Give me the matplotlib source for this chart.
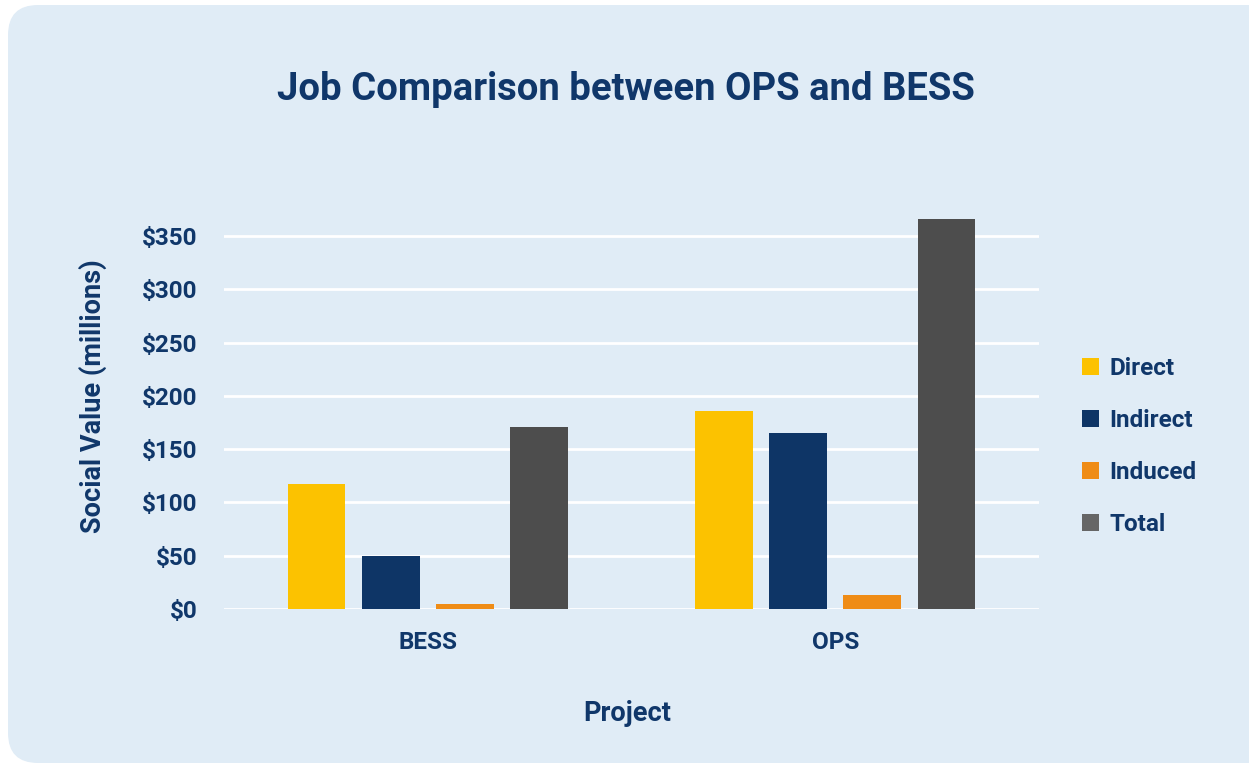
import matplotlib.pyplot as plt
from matplotlib.patches import FancyBboxPatch, Patch

plt.rcParams['font.family'] = ['Roboto', 'DejaVu Sans']

projects = ['BESS', 'OPS']
series = ['Direct', 'Indirect', 'Induced', 'Total']
direct = [117, 186]
indirect = [50, 165]
induced = [5, 13]
total = [171, 366]
yticks = [0, 50, 100, 150, 200, 250, 300, 350]

navy = '#10376a'
bar_colors = ['#fcc200', '#0e3566', '#ef8c16', '#4d4d4d']
legend_colors = ['#fcc200', '#0e3566', '#ef8c16', '#666666']

W, H = 1249, 765
fig = plt.figure(figsize=(W / 100, H / 100), dpi=100)
fig.patch.set_facecolor('white')

# rounded card behind everything, drawn in pixel units
bg = fig.add_axes([0, 0, 1, 1])
bg.set_xlim(0, W)
bg.set_ylim(H, 0)
bg.axis('off')
bg.add_patch(FancyBboxPatch((8, 5), W + 20, H - 7,
                            boxstyle='round,pad=0,rounding_size=30',
                            fc='#e0ecf6', ec='none'))

ax = fig.add_axes([224 / W, (H - 609) / H, 815 / W, 394.4 / H])
ax.set_facecolor('none')

offsets = [-0.273, -0.091, 0.091, 0.273]
for vals, off, col in zip([direct, indirect, induced, total], offsets, bar_colors):
    ax.bar([i + off for i in range(len(projects))], vals, width=0.142,
           color=col, zorder=3)

ax.set_xlim(-0.5, 1.5)
ax.set_ylim(0, 370)
ax.set_yticks(yticks)
ax.set_yticklabels([f'${v}' for v in yticks])
ax.set_xticks(range(len(projects)))
ax.set_xticklabels(projects)
ax.yaxis.grid(True, color='white', lw=2, zorder=0)
ax.set_axisbelow(True)
for s in ax.spines.values():
    s.set_visible(False)
ax.tick_params(axis='y', length=0, pad=19, labelsize=17.5, labelcolor=navy)
ax.tick_params(axis='x', length=0, pad=16, labelsize=17.5, labelcolor=navy)
for lab in ax.get_xticklabels() + ax.get_yticklabels():
    lab.set_fontweight('bold')

ax.set_xlabel('Project', fontsize=19.5, fontweight='bold', color=navy)
ax.set_ylabel('Social Value (millions)', fontsize=19.5, fontweight='bold',
              color=navy)
ax.xaxis.label.set_va('center')
ax.yaxis.label.set_va('center')
ax.xaxis.set_label_coords(0.4945, -0.266)
ax.yaxis.set_label_coords(-0.161, 0.540)

fig.text(626 / W, 1 - 89 / H, 'Job Comparison between OPS and BESS',
         ha='center', va='center', fontsize=27.5, fontweight='bold', color=navy)

handles = [Patch(fc=c, ec='none') for c in legend_colors]
leg = fig.legend(handles, series, loc='center left',
                 bbox_to_anchor=(1082 / W, 1 - 446.5 / H), frameon=False,
                 borderaxespad=0, borderpad=0,
                 handlelength=0.7, handleheight=0.7, handletextpad=0.42,
                 labelspacing=1.18, prop={'size': 17.5, 'weight': 'bold'})
for t in leg.get_texts():
    t.set_color(navy)

fig.savefig('out.png', dpi=100, facecolor='white')
